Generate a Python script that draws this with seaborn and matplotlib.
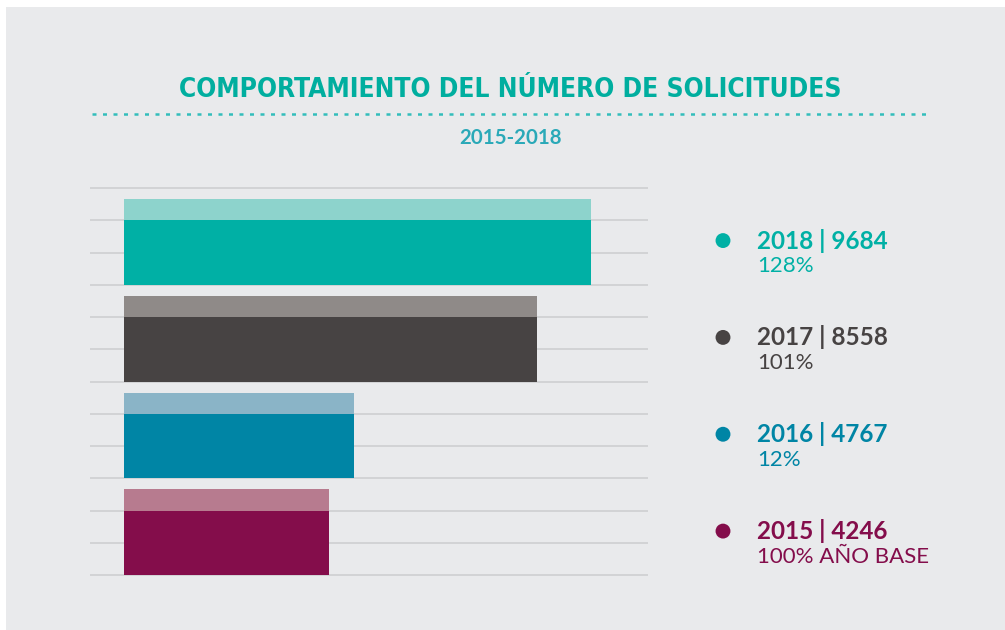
import numpy as np
import pandas as pd
import matplotlib
matplotlib.use("Agg")
import matplotlib.pyplot as plt
from matplotlib.patches import Rectangle
from matplotlib.lines import Line2D
import seaborn as sns

# Data
years = ["2018", "2017", "2016", "2015"]
values = [9684, 8558, 4767, 4246]
shares = ["128%", "101%", "12%", "100% AÑO BASE"]
dark_colors = ["#00b0a5", "#474343", "#0085a5", "#840d4b"]
light_colors = ["#8dd3cc", "#8f8a88", "#8ab4c7", "#b77b8f"]

title = "COMPORTAMIENTO DEL NÚMERO DE SOLICITUDES"
subtitle = "2015-2018"
teal = "#00ae9f"

sns.set_theme(style="white")
plt.rcParams["font.family"] = ["Lato", "DejaVu Sans"]

W, H = 1005, 630
bg = "#e9eaec"

fig = plt.figure(figsize=(W / 100, H / 100), dpi=100, facecolor="white")
fig.patches.append(Rectangle((6 / W, 0), 1, 1 - 7 / H, transform=fig.transFigure,
                             facecolor=bg, edgecolor="none", zorder=-5))

# each year takes 3 grid rows
slot = np.arange(len(years)) * 3
df = pd.DataFrame({
    "year": years,
    "value": values,
    "full_pos": slot + 1.67,
    "dark_pos": slot + 2.0,
})

ax = fig.add_axes([90 / W, (H - 585) / H, 558 / W, 405 / H])
ax.set_facecolor("none")

sns.barplot(data=df, x="value", y="full_pos", hue="year", orient="y",
            native_scale=True, width=2.66 / 3, errorbar=None, legend=False,
            saturation=1, palette=dict(zip(years, light_colors)), linewidth=0,
            ax=ax, zorder=3)
sns.barplot(data=df, x="value", y="dark_pos", hue="year", orient="y",
            native_scale=True, width=2.0 / 3, errorbar=None, legend=False,
            saturation=1, palette=dict(zip(years, dark_colors)), linewidth=0,
            ax=ax, zorder=4)

ax.set_xlim(-705, 10871)
ax.set_ylim(12.3, -0.2465)
ax.set_yticks(range(13))
ax.yaxis.grid(True, color="#cbccce", linewidth=1.1, zorder=1)
ax.set_axisbelow(True)
ax.tick_params(length=0, labelleft=False, labelbottom=False)
ax.set_xlabel("")
ax.set_ylabel("")
for s in ax.spines.values():
    s.set_visible(False)

# legend column, same vertical scale as the bars
lg = fig.add_axes([700 / W, (H - 585) / H, 300 / W, 405 / H], sharey=ax)
lg.set_facecolor("none")
lg.set_xlim(0, 300)
lg.axis("off")
sns.scatterplot(x=np.full(len(years), 23), y=slot + 1.63, hue=years,
                palette=dict(zip(years, dark_colors)), s=115, linewidth=0,
                legend=False, ax=lg)
for i, yr in enumerate(years):
    lg.text(57, slot[i] + 1.63, f"{yr} | {values[i]}", color=dark_colors[i],
            fontsize=17.5, fontweight="bold", va="center", ha="left")
    lg.text(57, slot[i] + 2.42, shares[i], color=dark_colors[i],
            fontsize=16, va="center", ha="left")

# titles
fig.text(510.5 / W, 1 - 90 / H, title, color=teal, fontsize=18.9, fontweight="bold",
         family="DejaVu Sans", fontstretch="condensed", ha="center", va="center")
fig.text(510 / W, 1 - 138 / H, subtitle, color="#2aa9b8", fontsize=14.8,
         fontweight="bold", ha="center", va="center")
fig.lines.append(Line2D([92 / W, 928 / W], [1 - 114 / H, 1 - 114 / H],
                        transform=fig.transFigure, color="#33bdbb", linewidth=1.8,
                        linestyle=(0, (1.6, 2.6))))

fig.savefig("out.png", dpi=100, facecolor="white")
